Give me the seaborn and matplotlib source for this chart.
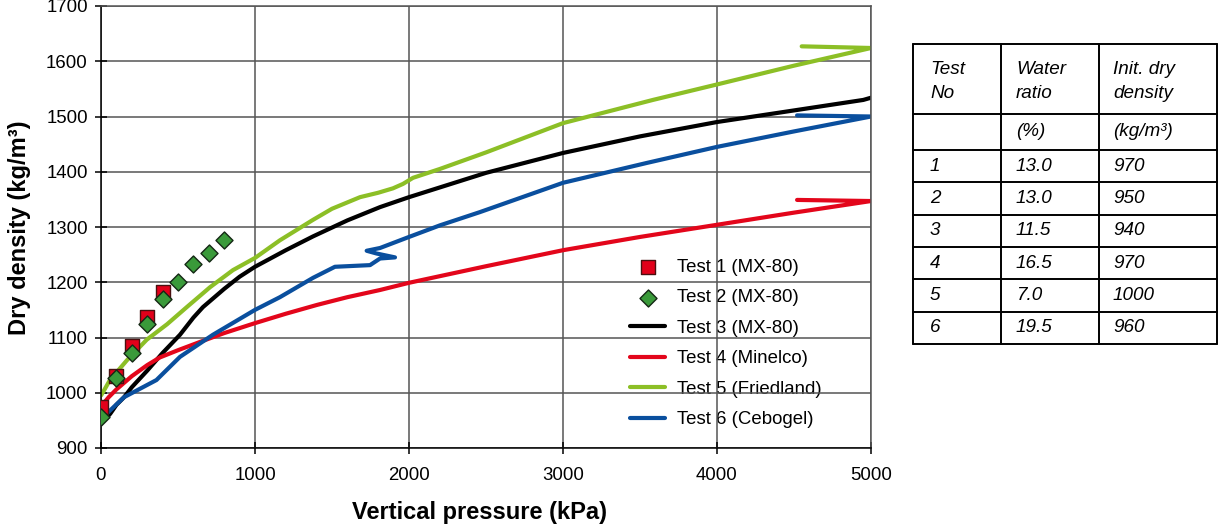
import matplotlib
matplotlib.use("Agg")
import matplotlib.pyplot as plt
import seaborn as sns

sns.set_style("white")
plt.rcParams["font.family"] = ["Liberation Sans", "DejaVu Sans"]
for key in ("text.color", "axes.labelcolor", "xtick.color", "ytick.color"):
    plt.rcParams[key] = "black"

# ---- oedometer test data: vertical pressure (kPa) vs dry density (kg/m3) ----
p1 = [0, 100, 200, 300, 400]
d1 = [975, 1030, 1085, 1137, 1183]

p2 = [0, 100, 200, 300, 400, 500, 600, 700, 800]
d2 = [956, 1027, 1072, 1124, 1170, 1200, 1233, 1253, 1276]

p3 = [0, 20, 60, 100, 150, 200, 300, 400, 513, 600, 662, 800, 900, 1000,
      1200, 1377, 1600, 1812, 2000, 2500, 3000, 3500, 4000, 4500, 4950, 5000]
d3 = [945, 950, 962, 978, 992, 1010, 1040, 1072, 1105, 1136, 1155, 1188,
      1210, 1228, 1258, 1283, 1312, 1336, 1354, 1398, 1434, 1464, 1490, 1511,
      1530, 1534]

p4 = [0, 50, 100, 200, 300, 383, 500, 643, 800, 1000, 1200, 1403, 1600,
      1812, 2000, 2500, 3000, 3500, 4000, 4500, 5000, 4520]
d4 = [975, 992, 1006, 1030, 1050, 1064, 1077, 1092, 1108, 1126, 1143, 1159,
      1173, 1186, 1199, 1229, 1258, 1282, 1304, 1326, 1347, 1349]

p5 = [0, 13, 58, 169, 297, 429, 557, 708, 857, 1000, 1162, 1377, 1500, 1682,
      1800, 1896, 1961, 2026, 2200, 2500, 3000, 3584, 4000, 4500, 5000, 4550]
d5 = [995, 1001, 1023, 1059, 1096, 1124, 1155, 1191, 1222, 1244, 1276, 1313,
      1333, 1354, 1362, 1370, 1378, 1389, 1405, 1435, 1488, 1530, 1558, 1592,
      1624, 1627]

p6 = [0, 40, 150, 360, 513, 727, 1000, 1162, 1377, 1519, 1747, 1812, 1909,
      1790, 1725, 1812, 2000, 2201, 2461, 3000, 3545, 4000, 4500, 5000, 4520]
d6 = [955, 963, 992, 1023, 1065, 1105, 1150, 1173, 1208, 1228, 1231, 1243,
      1245, 1252, 1257, 1262, 1282, 1303, 1327, 1380, 1416, 1445, 1473, 1500,
      1502]

labels = ["Test 1 (MX-80)", "Test 2 (MX-80)", "Test 3 (MX-80)",
          "Test 4 (Minelco)", "Test 5 (Friedland)", "Test 6 (Cebogel)"]

x_ticks = [0, 1000, 2000, 3000, 4000, 5000]
y_ticks = [900, 1000, 1100, 1200, 1300, 1400, 1500, 1600, 1700]

# table of test conditions
table_header = [["Test", "Water", "Init. dry"],
                ["No", "ratio", "density"],
                ["", "(%)", "(kg/m³)"]]
test_no = ["1", "2", "3", "4", "5", "6"]
water_ratio = [13.0, 13.0, 11.5, 16.5, 7.0, 19.5]
init_density = [970, 950, 940, 970, 1000, 960]

W, H = 1218, 526
fig = plt.figure(figsize=(W / 100, H / 100), dpi=100)
ax = fig.add_axes([101 / W, 1 - 448 / H, 770 / W, 442 / H])

LW = 3.0
c_red, c_green, c_blue = "#e3061b", "#8cbf26", "#0a4f9e"

sns.lineplot(x=p3, y=d3, sort=False, estimator=None, color="black",
             lw=LW, ax=ax, label=labels[2])
sns.lineplot(x=p4, y=d4, sort=False, estimator=None, color=c_red,
             lw=LW, ax=ax, label=labels[3])
sns.lineplot(x=p5, y=d5, sort=False, estimator=None, color=c_green,
             lw=LW, ax=ax, label=labels[4])
sns.lineplot(x=p6, y=d6, sort=False, estimator=None, color=c_blue,
             lw=LW, ax=ax, label=labels[5])
sns.scatterplot(x=p1, y=d1, marker="s", s=110, color="#e2001a",
                edgecolor="#4a1010", linewidth=1.0, ax=ax, label=labels[0],
                zorder=3)
sns.scatterplot(x=p2, y=d2, marker="D", s=75, color="#3a9a3a",
                edgecolor="#142814", linewidth=1.0, ax=ax, label=labels[1],
                zorder=4)

ax.set_xlim(0, 5000)
ax.set_ylim(900, 1700)
ax.set_xticks(x_ticks)
ax.set_yticks(y_ticks)
ax.set_xlabel("")
ax.set_ylabel("")
ax.grid(True, color="#555555", lw=1.1)
ax.set_axisbelow(True)
for side in ("left", "bottom"):
    ax.spines[side].set_color("black")
    ax.spines[side].set_linewidth(1.1)
for side in ("top", "right"):
    ax.spines[side].set_color("#555555")
    ax.spines[side].set_linewidth(1.1)
ax.tick_params(bottom=True, left=True, direction="inout", length=9,
               width=1.1, color="black", labelcolor="black",
               labelsize=13.4, pad=5)
ax.tick_params(axis="x", pad=9)

handles, labs = ax.get_legend_handles_labels()
order = [labs.index(l) for l in labels]
leg = ax.legend([handles[i] for i in order], [labs[i] for i in order],
                loc="upper left", bbox_to_anchor=(630 / W, 1 - 259 / H),
                bbox_transform=fig.transFigure, frameon=False,
                fontsize=13.4, handlelength=1.9, handletextpad=0.65,
                labelspacing=0.72, borderpad=0, borderaxespad=0,
                scatterpoints=1)
leg.set_zorder(0.4)

fig.text(479 / W, 1 - 512 / H, "Vertical pressure (kPa)", ha="center",
         va="center", fontsize=17, fontweight="bold")
fig.text(20 / W, 1 - 228 / H, "Dry density (kg/m³)", ha="center",
         va="center", fontsize=17, fontweight="bold", rotation=90)

# ---- conditions table, laid out in figure pixels ----
tax = fig.add_axes([0, 0, 1, 1], zorder=-1)
tax.set_xlim(0, W)
tax.set_ylim(H, 0)
tax.axis("off")

col_x = [913, 1001, 1099, 1217]
row_y = [44, 114, 150] + [150 + 32.3 * (i + 1) for i in range(6)]
text_x = [930, 1016, 1113]
for x in col_x:
    tax.plot([x, x], [row_y[0], row_y[-1]], color="black", lw=1.4)
for y in row_y:
    tax.plot([col_x[0], col_x[-1]], [y, y], color="black", lw=1.4)

tfont = dict(fontsize=13.6, style="italic", va="center", ha="left")
for j in range(3):
    tax.text(text_x[j], 70, table_header[0][j], **tfont)
    tax.text(text_x[j], 94, table_header[1][j], **tfont)
    tax.text(text_x[j], 132, table_header[2][j], **tfont)
for i in range(6):
    yc = (row_y[2 + i] + row_y[3 + i]) / 2
    tax.text(text_x[0], yc, test_no[i], **tfont)
    tax.text(text_x[1], yc, f"{water_ratio[i]:.1f}", **tfont)
    tax.text(text_x[2], yc, f"{init_density[i]}", **tfont)

fig.savefig("out.png", dpi=100)
